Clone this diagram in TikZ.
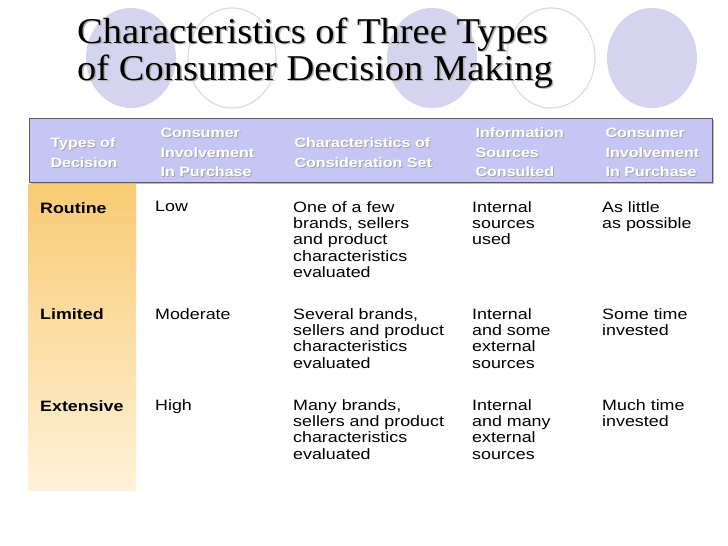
\documentclass[tikz,border=0pt]{standalone}
\usepackage{fontspec}
\setmainfont{Liberation Sans}
\newfontfamily\widefont[FakeStretch=1.19]{Liberation Sans}
\newfontfamily\titlefont[FakeStretch=1.06]{Liberation Serif}
\begin{document}
\begin{tikzpicture}[x=1pt,y=-1pt,
  ocirc/.style={draw=circline,line width=1.2pt,fill=none},
  hd/.style={anchor=west,align=left,font=\widefont\bfseries\fontsize{13.5}{19.5}\selectfont,text=white},
  hds/.style={anchor=west,align=left,font=\widefont\bfseries\fontsize{13.5}{19.5}\selectfont,text=gray!70},
  body/.style={anchor=north west,align=left,font=\widefont\fontsize{15}{16.4}\selectfont,inner sep=0pt},
  rowlab/.style={anchor=north west,font=\widefont\bfseries\fontsize{15}{16.4}\selectfont,inner sep=0pt}]
\definecolor{circfill}{HTML}{D4D4EE}
\definecolor{circline}{HTML}{DADAF0}
\definecolor{band}{HTML}{C6C6F4}
\definecolor{orng}{HTML}{F9CB73}
\definecolor{pale}{HTML}{FFF1D8}
\useasboundingbox (0,0) rectangle (728,546);
\fill[white] (0,0) rectangle (728,546);
% circles
\fill[circfill] (131,58) ellipse [x radius=45,y radius=50];
\draw[ocirc] (232,58) ellipse [x radius=44,y radius=50];
\fill[circfill] (432,58) ellipse [x radius=45,y radius=50];
\draw[ocirc] (551,58) ellipse [x radius=44,y radius=50];
\fill[circfill] (652,58) ellipse [x radius=45,y radius=50];
% title
\node[anchor=west,align=left,inner sep=0pt,text=gray!60,font=\titlefont\fontsize{36.3}{37}\selectfont] at (78.5,54.5) {Characteristics of Three Types\\of Consumer Decision Making};
\node (title)[anchor=west,align=left,inner sep=0pt,font=\titlefont\fontsize{36.3}{37}\selectfont] at (77,53) {Characteristics of Three Types\\of Consumer Decision Making};
% orange column
\shade[top color=orng,bottom color=pale] (28,184) rectangle (136,490);
% header band
\fill[gray!50] (31,120) rectangle (714,184);
\draw[fill=band,draw=gray!70!black,line width=0.8pt] (29,118) rectangle (712,182);
\foreach \x/\t in {47/{Types of\\Decision},157/{Consumer\\Involvement\\In Purchase},291/{Characteristics of\\Consideration Set},472/{Information\\Sources\\Consulted},602/{Consumer\\Involvement\\In Purchase}}{
  \node[hds] at (\x+1,153.5) {\t};
  \node[hd] at (\x,152.5) {\t};
}
% rows
\node (r1)[rowlab] at (40,202) {Routine};
\node (r2)[rowlab] at (40,308) {Limited};
\node (r3)[rowlab] at (40,400) {Extensive};
\node (c11)[body] at (155,201) {Low};
\node (c12)[body] at (293,201) {One of a few\\brands, sellers\\and product\\characteristics\\evaluated};
\node (c13)[body] at (472,201) {Internal\\sources\\used};
\node (c14)[body] at (602,201) {As little\\as possible};
\node (c21)[body] at (155,308) {Moderate};
\node (c22)[body] at (293,308) {Several brands,\\sellers and product\\characteristics\\evaluated};
\node (c23)[body] at (472,308) {Internal\\and some\\external\\sources};
\node (c24)[body] at (602,308) {Some time\\invested};
\node (c31)[body] at (155,399) {High};
\node (c32)[body] at (293,399) {Many brands,\\sellers and product\\characteristics\\evaluated};
\node (c33)[body] at (472,399) {Internal\\and many\\external\\sources};
\node (c34)[body] at (602,399) {Much time\\invested};
\end{tikzpicture}
\end{document}
